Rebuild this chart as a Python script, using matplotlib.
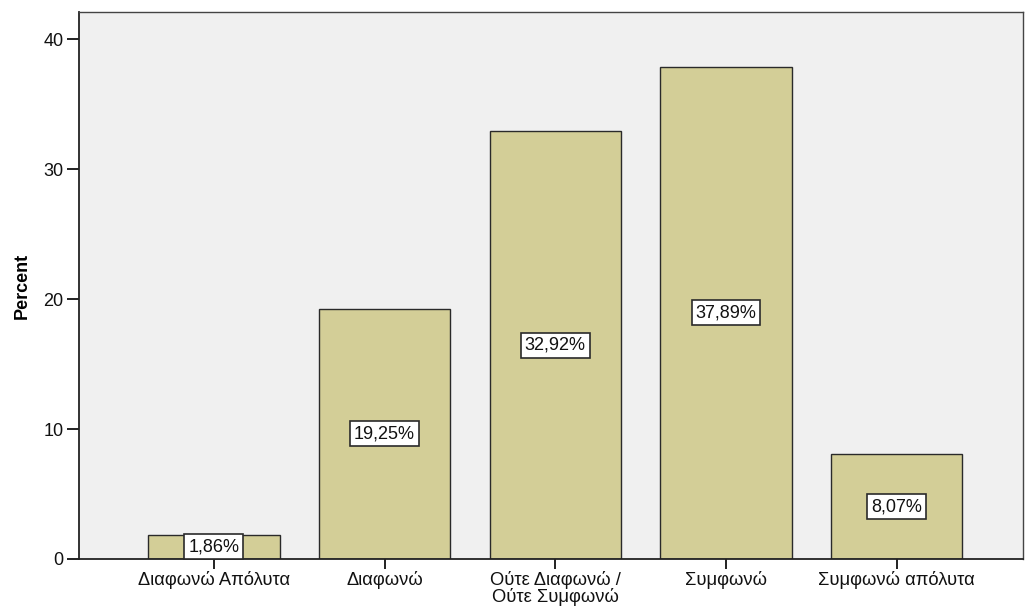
import matplotlib
matplotlib.use("Agg")
import matplotlib.pyplot as plt

plt.rcParams['font.family'] = ['Liberation Sans', 'DejaVu Sans']

categories = ["Διαφωνώ Απόλυτα", "Διαφωνώ", "Ούτε Διαφωνώ /\nΟύτε Συμφωνώ", "Συμφωνώ", "Συμφωνώ απόλυτα"]
percents = [1.86, 19.25, 32.92, 37.89, 8.07]
yticks = [0, 10, 20, 30, 40]

fig = plt.figure(figsize=(10.34, 6.06), dpi=100)
ax = fig.add_axes([0.0764, 0.0776, 0.9130, 0.9026])
ax.set_facecolor('#F0F0F0')

x = list(range(len(categories)))
ax.bar(x, percents, width=0.77, color='#D3CE97', edgecolor='#2a2a2a', linewidth=1.0, zorder=2)

for xi, v in zip(x, percents):
    ax.text(xi, v / 2, f"{v:.2f}%".replace('.', ','), ha='center', va='center', fontsize=13,
            color='#111111', zorder=3,
            bbox=dict(boxstyle='square,pad=0.22', facecolor='white', edgecolor='#2a2a2a', linewidth=1.2))

ax.set_xlim(-0.79, 4.74)
ax.set_ylim(0, 42.1)
ax.set_yticks(yticks)
ax.set_xticks(x)
ax.set_xticklabels(categories, fontsize=13.2, linespacing=0.92)
ax.tick_params(axis='y', labelsize=13, length=9, width=1.3, direction='out', pad=2, colors='#111111')
ax.tick_params(axis='x', length=7, width=1.3, direction='out', pad=2, colors='#111111')
ax.set_ylabel("Percent", fontsize=13, fontweight='bold', labelpad=9)

for side in ['left', 'bottom']:
    ax.spines[side].set_linewidth(1.3)
    ax.spines[side].set_color('#222222')
for side in ['top', 'right']:
    ax.spines[side].set_linewidth(1.0)
    ax.spines[side].set_color('#444444')

fig.savefig("out.png", dpi=100, facecolor='white')
